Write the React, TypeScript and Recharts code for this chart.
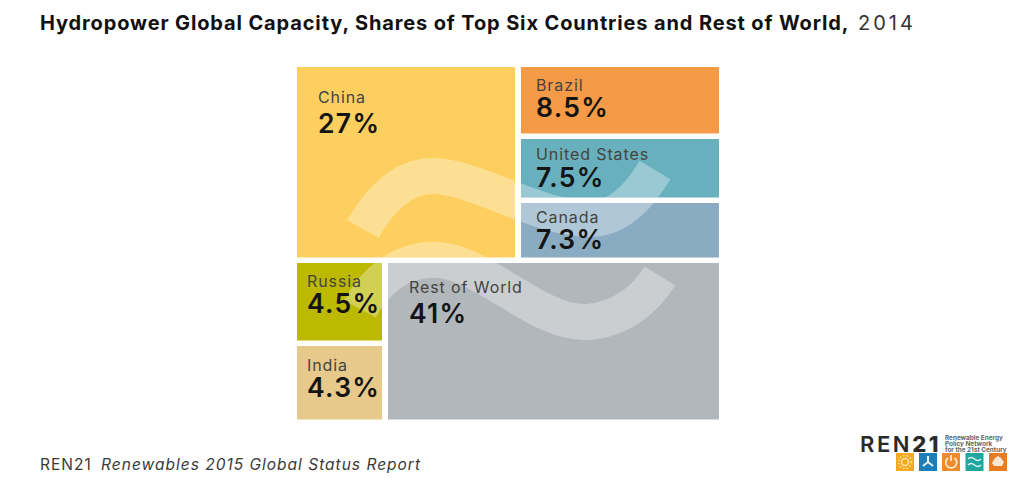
import { Treemap } from "recharts";

const countries = ["China", "Brazil", "United States", "Canada", "Russia", "India", "Rest of World"];
const sharePct = ["27%", "8.5%", "7.5%", "7.3%", "4.5%", "4.3%", "41%"];
// tile sizes as measured on the picture (the source draws Rest of World smaller than its 41%)
const tileWeights = [27, 9.03, 8.03, 7.53, 4.65, 4.4, 33.7];
const tileColors = ["#FDCF5F", "#F59A46", "#68B0BE", "#8AACC3", "#BDB900", "#E7CA8B", "#B2B7BB"];

const leaf = (i: number) => ({ name: countries[i], share: sharePct[i], weight: tileWeights[i], fill: tileColors[i] });

const tree = [
  {
    name: "upper",
    children: [
      leaf(0),
      { name: "right", children: [leaf(1), { name: "rightLower", children: [leaf(2), leaf(3)] }] },
    ],
  },
  {
    name: "lower",
    children: [{ name: "lowerLeft", children: [leaf(4), leaf(5)] }, leaf(6)],
  },
];

// text offsets inside each tile: [x, label baseline, value baseline]
const textOffsets: Record<string, number[]> = {
  China: [24, 39, 69],
  Brazil: [18, 27, 53],
  "United States": [18, 24, 51],
  Canada: [18, 23, 49],
  Russia: [13, 27, 53],
  India: [13, 28, 54],
  "Rest of World": [24, 33, 63],
};

// hydro "wave" mark, in treemap coordinates
const wavePaths = [
  "M69 165 C91 126 116 112 139 112 C181 112 246 156 298 155 C326 154 346 131 361 106",
  "M66 245 C84 211 113 194 145 196 C190 199 246 261 293 258 C326 256 351 236 366 212",
];

function Tile(props: any) {
  const { x, y, width, height, depth, children, name, share, fill } = props;
  if (depth === 0 || (children && children.length)) return null;
  const [dx, dy1, dy2] = textOffsets[name] || [10, 20, 40];
  const clipId = `clip-${name.replace(/\s/g, "")}`;
  return (
    <g>
      <clipPath id={clipId}>
        <rect x={x + 3} y={y + 3} width={width - 6} height={height - 5.5} />
      </clipPath>
      <rect x={x + 3} y={y + 3} width={width - 6} height={height - 5.5} fill={fill} stroke="none" />
      <g clipPath={`url(#${clipId})`}>
        {wavePaths.map((d) => (
          <path key={d} d={d} fill="none" stroke="#fff" strokeOpacity={0.33} strokeWidth={36} />
        ))}
      </g>
      <text x={x + dx} y={y + dy1} fontFamily="Inter" fontSize={16} fill="#44443f" stroke="none" letterSpacing={0.9}>
        {name}
      </text>
      <text x={x + dx} y={y + dy2} fontFamily="Inter" fontWeight={600} fontSize={26.5} fill="#141414" stroke="none" letterSpacing={1.3}>
        {share}
      </text>
    </g>
  );
}

function Logo() {
  const squares = [
    { x: 896, c: "#F6A81F" },
    { x: 919, c: "#1E7EB8" },
    { x: 942, c: "#EE8B2A" },
    { x: 965.5, c: "#1FA79F" },
    { x: 989, c: "#E87C22" },
  ];
  return (
    <svg width={1023} height={481} style={{ position: "absolute", left: 0, top: 0, pointerEvents: "none" }}>
      <text x={860} y={452} fontFamily="Inter" fontWeight={600} fontSize={22} fill="#2a2a2a" letterSpacing={2.6}>
        REN
        <tspan fontWeight={800}>21</tspan>
      </text>
      <g fontFamily="Inter" fontWeight={700} fontSize={6.4} fill="#666">
        <text x={945} y={440}>Renewable Energy</text>
        <text x={945} y={446}>Policy Network</text>
        <text x={945} y={452}>for the 21st Century</text>
      </g>
      {squares.map((s) => (
        <rect key={s.x} x={s.x} y={453} width={18} height={18} fill={s.c} />
      ))}
      <g fill="none" stroke="#FCE6A8" strokeWidth={1.6}>
        <circle cx={905} cy={462} r={3.5} />
        <circle cx={905} cy={462} r={6.5} strokeDasharray="1.5 2" />
      </g>
      <path d="M928 462 L928 456 M928 462 L923 466 M928 462 L933 466" stroke="#E6F2F8" strokeWidth={2} fill="none" />
      <path d="M948 458 A5.5 5.5 0 1 0 954.5 458 M951 455 L951 461" stroke="#FDE9D0" strokeWidth={1.8} fill="none" />
      <path d="M968 459 Q971 456 974.5 459 T981 459 M968 465 Q971 462 974.5 465 T981 465" stroke="#DFF4F2" strokeWidth={1.6} fill="none" />
      <path d="M992 463 L995 458 L998 456 L1001 458 L1004 462 L1002 466 L994 466 Z" fill="#FBE7D2" />
    </svg>
  );
}

export default function App() {
  return (
    <div style={{ position: "fixed", left: 0, top: 0, width: 1023, height: 481, background: "#fff", overflow: "hidden" }}>
      <div
        style={{
          position: "absolute",
          left: 40,
          top: 9,
          whiteSpace: "nowrap",
          fontFamily: "Inter",
          fontSize: 20,
          lineHeight: "28px",
          fontWeight: 700,
          letterSpacing: 0.87,
          color: "#111",
        }}
      >
        Hydropower Global Capacity, Shares of Top Six Countries and Rest of World,
        <span style={{ fontWeight: 400, color: "#333", letterSpacing: 3 }}> 2014</span>
      </div>
      <div style={{ position: "absolute", left: 294, top: 64 }}>
        <Treemap
          width={428}
          height={358}
          data={tree}
          dataKey="weight"
          type="flat"
          aspectRatio={1.77}
          isAnimationActive={false}
          content={<Tile />}
        />
      </div>
      <div
        style={{
          position: "absolute",
          left: 40,
          top: 454,
          whiteSpace: "nowrap",
          fontFamily: "Inter",
          fontSize: 15.5,
          lineHeight: "22px",
          letterSpacing: 1,
          color: "#3a3a3a",
        }}
      >
        REN21 <span style={{ fontStyle: "italic", marginLeft: 4 }}>Renewables 2015 Global Status Report</span>
      </div>
      <Logo />
    </div>
  );
}
